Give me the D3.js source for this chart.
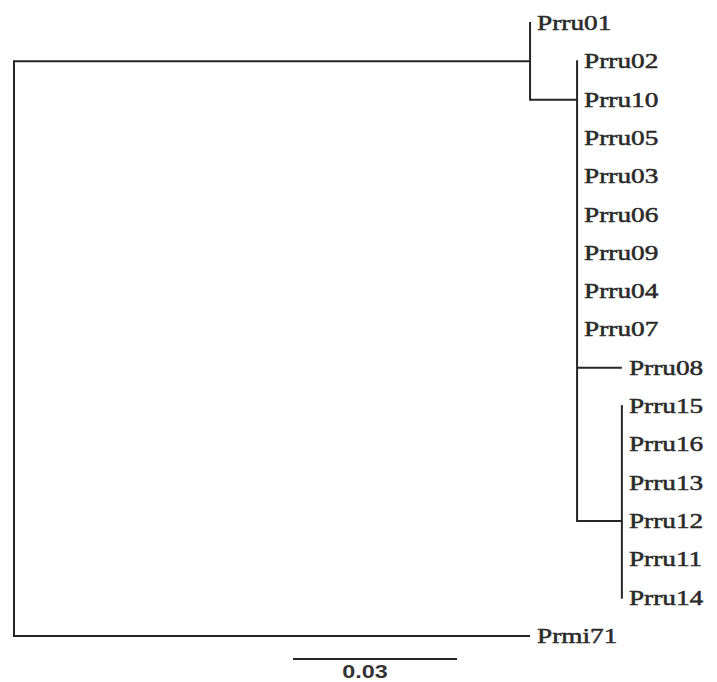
<!DOCTYPE html>
<html lang="en">
<head>
<meta charset="UTF-8">
<title>Phylogenetic tree</title>
<script src="https://d3js.org/d3.v7.min.js"></script>
<style>
  body { margin: 0; background: #fff; }
  .branch { stroke: #262626; stroke-width: 2; fill: none; }
  .leaf { font-family: "Liberation Serif", "Times New Roman", serif; font-size: 21px; font-weight: normal; fill: #2a2a2a; stroke: #2a2a2a; stroke-width: 0.5px; }
  .scale-label { font-family: "Liberation Sans", Arial, sans-serif; font-size: 18px; font-weight: bold; fill: #333; }
</style>
</head>
<body>
<svg width="717" height="682"></svg>
<script>
// leaf order, top to bottom
const leaves = ["Prru01", "Prru02", "Prru10", "Prru05", "Prru03", "Prru06", "Prru09", "Prru04",
  "Prru07", "Prru08", "Prru15", "Prru16", "Prru13", "Prru12", "Prru11", "Prru14", "Prmi71"];

// tree edges (parent -> child, branch length)
const edgeChild  = ["A", "Prmi71", "Prru01", "B", "Prru02", "Prru10", "Prru05", "Prru03", "Prru06",
  "Prru09", "Prru04", "Prru07", "Prru08", "C", "Prru15", "Prru16", "Prru13", "Prru12", "Prru11", "Prru14"];
const edgeParent = ["root", "root", "A", "A", "B", "B", "B", "B", "B",
  "B", "B", "B", "B", "B", "C", "C", "C", "C", "C", "C"];
const edgeLength = [0.0944, 0.0944, 0, 0.0086, 0, 0, 0, 0, 0,
  0, 0, 0, 0.0082, 0.0082, 0, 0, 0, 0, 0, 0];

// polytomies drawn at the row of one of their members
const anchorNode = ["B", "C"];
const anchorLeaf = ["Prru10", "Prru12"];

const scaleBarValue = 0.03;
const scaleBarLabel = "0.03";

const svg = d3.select("svg");

const rows = [{id: "root", parentId: null, len: 0}].concat(
  edgeChild.map((c, i) => ({id: c, parentId: edgeParent[i], len: edgeLength[i]})));
const root = d3.stratify().id(d => d.id).parentId(d => d.parentId)(rows);

// keep child order = leaf order
const order = new Map(leaves.map((l, i) => [l, i]));
root.eachAfter(n => {
  n.minIdx = n.children ? d3.min(n.children, c => c.minIdx) : order.get(n.id);
});
root.sort((a, b) => a.minIdx - b.minIdx);

const x = d3.scaleLinear().domain([0, 0.12]).range([14, 670]);
const y = d3.scalePoint().domain(leaves).range([23, 636]);

root.eachBefore(n => { n.dist = n.parent ? n.parent.dist + n.data.len : 0; });
const anchors = new Map(anchorNode.map((n, i) => [n, anchorLeaf[i]]));
root.eachAfter(n => {
  if (!n.children) n.py = y(n.id);
  else if (anchors.has(n.id)) n.py = y(anchors.get(n.id));
  else n.py = (d3.min(n.children, c => c.py) + d3.max(n.children, c => c.py)) / 2;
});

const g = svg.append("g");

// vertical connectors
root.descendants().filter(n => n.children).forEach(n => {
  g.append("line").attr("class", "branch")
    .attr("x1", x(n.dist)).attr("x2", x(n.dist))
    .attr("y1", d3.min(n.children, c => c.py) - 1)
    .attr("y2", d3.max(n.children, c => c.py) + 1);
});

// horizontal branches
root.descendants().filter(n => n.parent && n.data.len > 0).forEach(n => {
  g.append("line").attr("class", "branch")
    .attr("x1", x(n.parent.dist)).attr("x2", x(n.dist))
    .attr("y1", n.py).attr("y2", n.py);
});

// labels
root.leaves().forEach(n => {
  g.append("text").attr("class", "leaf")
    .attr("transform", `translate(${x(n.dist) + 7},${n.py}) scale(1.3,1)`)
    .attr("dy", "0.33em")
    .text(n.id);
});

// scale bar
const sb = svg.append("g").attr("transform", "translate(293,659)");
sb.append("line").attr("class", "branch")
  .attr("x1", 0).attr("x2", x(scaleBarValue) - x(0))
  .attr("y1", 0).attr("y2", 0);
sb.append("text").attr("class", "scale-label")
  .attr("transform", `translate(${(x(scaleBarValue) - x(0)) / 2 - 10},19) scale(1.3,1)`)
  .attr("text-anchor", "middle")
  .text(scaleBarLabel);
</script>
</body>
</html>
